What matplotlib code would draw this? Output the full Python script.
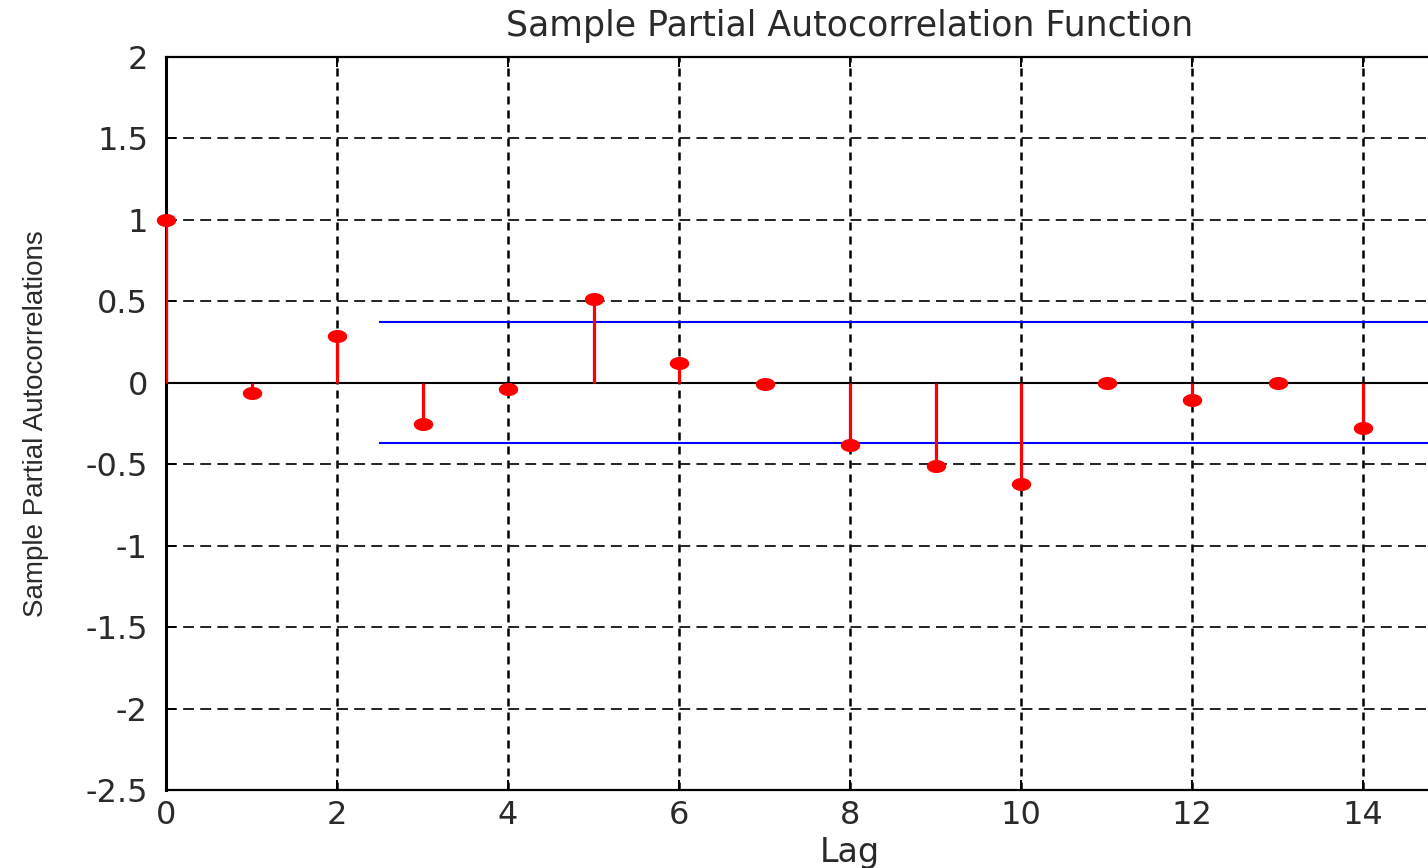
import numpy as np
import matplotlib
matplotlib.use("Agg")
import matplotlib.pyplot as plt

lags = list(range(15))
pacf = [1.0, -0.06, 0.29, -0.25, -0.04, 0.515, 0.12, -0.01, -0.38, -0.51, -0.62, 0.0, -0.105, 0.0, -0.275]
upper_bound = 0.375
lower_bound = -0.37
bound_start = 2.5
bound_end = 16
x_ticks = list(range(0, 15, 2))
y_ticks = [-2.5, -2, -1.5, -1, -0.5, 0, 0.5, 1, 1.5, 2]
y_tick_labels = ["-2.5", "-2", "-1.5", "-1", "-0.5", "0", "0.5", "1", "1.5", "2"]

plt.rcParams['font.family'] = ['DejaVu Sans']

W, H = 1428, 868
fig = plt.figure(figsize=(W / 100, H / 100), dpi=100)
left, right = 166 / W, 1534 / W
bottom, top = 1 - 790 / H, 1 - 57 / H
ax = fig.add_axes([left, bottom, right - left, top - bottom])

ax.set_xlim(0, 16)
ax.set_ylim(-2.5, 2)
ax.set_xticks(x_ticks)
ax.set_yticks(y_ticks)
ax.set_yticklabels(y_tick_labels)

# grid
for xv in x_ticks[1:]:
    ax.axvline(xv, color='black', lw=1.8, ls=(0, (3.2, 2.4)), zorder=1)
for yv in y_ticks[1:-1]:
    ax.axhline(yv, color='#222222', lw=1.4, ls=(0, (5.6, 3.2)), zorder=1)

# baseline
ax.axhline(0, color='black', lw=1.5, zorder=2)

# bounds
ax.plot([bound_start, bound_end], [upper_bound, upper_bound], color='blue', lw=1.5, zorder=2)
ax.plot([bound_start, bound_end], [lower_bound, lower_bound], color='blue', lw=1.5, zorder=2)

# stems
t = np.linspace(0, 2 * np.pi, 40)
ell = list(zip(1.55 * np.cos(t), np.sin(t)))
ax.vlines(lags, 0, pacf, color='red', lw=2.3, zorder=3)
ax.plot(lags, pacf, ls='none', marker=ell, markersize=13, color='red',
        markeredgecolor='red', zorder=4, clip_on=False)

ax.spines['left'].set_linewidth(2.2)
ax.spines['bottom'].set_linewidth(1.6)
ax.spines['top'].set_linewidth(1.6)
txt_color = '#2a2a2a'
ax.tick_params(direction='in', length=7, width=1.4, labelsize=23, top=True, right=True,
               labelcolor=txt_color)
ax.tick_params(axis='y', pad=13)
ax.tick_params(axis='x', pad=7)

ax.set_title('Sample Partial Autocorrelation Function', fontsize=25, pad=15, color=txt_color)
ax.set_xlabel('Lag', fontsize=24, labelpad=4, color=txt_color)
ax.set_ylabel('Sample Partial Autocorrelations', fontsize=20, family='Liberation Sans', color=txt_color)
ax.yaxis.set_label_coords((49 - 166) / (right - left) / W, 0.5)

fig.savefig('out.png', dpi=100)
